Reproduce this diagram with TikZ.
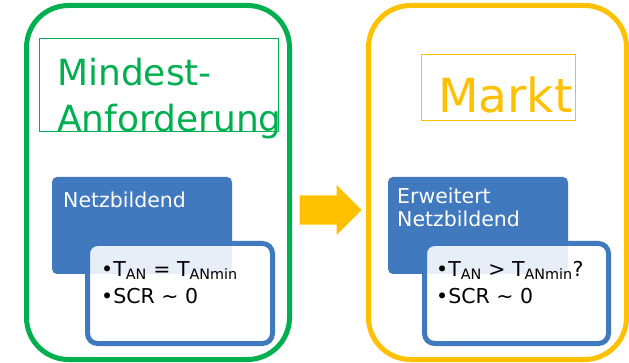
\documentclass[tikz,border=0pt]{standalone}
\usepackage{fontspec}
\setmainfont{DejaVu Sans}
\usetikzlibrary{shapes.arrows}
\definecolor{RahmenGruen}{HTML}{00B050}
\definecolor{RahmenGelb}{HTML}{FFC000}
\definecolor{KastenBlau}{HTML}{4179BE}

\tikzset{
  rahmen/.style={draw=#1, line width=5pt, rounded corners=42pt},
  titelbox/.style={draw=#1, line width=1pt},
  blaubox/.style={fill=KastenBlau, rounded corners=5pt},
  listbox/.style={draw=KastenBlau, line width=5pt, fill=white, fill opacity=0.88,
                  rounded corners=10pt},
  titeltext/.style={anchor=base west, inner sep=0pt, text=#1},
  klein/.style={anchor=base west, inner sep=0pt, align=left,
                font=\fontsize{20.5}{23}\selectfont},
  liste/.style={anchor=base west, inner sep=0pt, align=left,
                font=\fontsize{20.5}{28}\selectfont}
}

\begin{document}
\begin{tikzpicture}[x=1pt, y=-1pt]
\useasboundingbox (0,0) rectangle (629,363);

% ── Mindestanforderung ─────────────────────────────────────────────────────────
\node[rahmen=RahmenGruen, minimum width=263, minimum height=354] (links) at (158, 182.5) {};
\node[titelbox=RahmenGruen, minimum width=239, minimum height=93] (linksbox) at (158.5, 85.5) {};
% base = letzte Zeile
\node[titeltext=RahmenGruen, align=left, font=\fontsize{36}{46}\selectfont]
  (linkstitel) at (57, 132) {Mindest-\\Anforderung};

\node[blaubox, minimum width=180, minimum height=97] (linksblau) at (142, 225.5) {};
\node[klein, text=white] (linksname) at (63, 208) {Netzbildend};

\node[listbox, minimum width=185, minimum height=100] (linksliste) at (180, 293.5) {};
\node[liste] (linkspunkte) at (101, 304)
  {•T\textsubscript{AN} = T\textsubscript{ANmin}\\•SCR \textasciitilde{} 0};

% ── Pfeil ────────────────────────────────────────────────────────────────────
\node[single arrow, fill=RahmenGelb, inner xsep=0pt, inner ysep=14.5pt,
      minimum height=62, anchor=tip,
      single arrow head extend=10.5, single arrow tip angle=90] (pfeil) at (362, 210) {};

% ── Markt ────────────────────────────────────────────────────────────────────
\node[rahmen=RahmenGelb, minimum width=258, minimum height=354] (rechts) at (497.5, 182.5) {};
\node[titelbox=RahmenGelb, minimum width=154, minimum height=66] (rechtsbox) at (498, 88) {};
\node[titeltext=RahmenGelb, font=\fontsize{47}{56}\selectfont]
  (rechtstitel) at (438, 113) {Markt};

\node[blaubox, minimum width=180, minimum height=97] (rechtsblau) at (478, 225.5) {};
\node[klein, text=white] (rechtsname) at (397, 227) {Erweitert\\Netzbildend};

\node[listbox, minimum width=184, minimum height=100] (rechtsliste) at (516.5, 293.5) {};
\node[liste] (rechtspunkte) at (436, 304)
  {•T\textsubscript{AN} > T\textsubscript{ANmin}?\\•SCR \textasciitilde{} 0};

\end{tikzpicture}
\end{document}
